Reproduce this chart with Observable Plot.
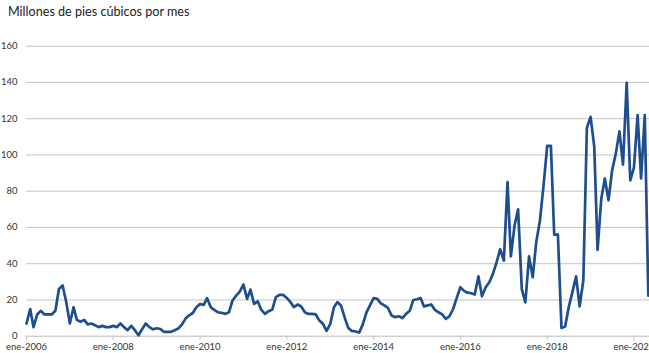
<!DOCTYPE html>
<html>
<head>
<meta charset="utf-8">
<script src="https://cdn.jsdelivr.net/npm/d3@7"></script>
<script src="https://cdn.jsdelivr.net/npm/@observablehq/plot@0.6"></script>
<style>
  html, body { margin: 0; padding: 0; background: #fff; width: 649px; height: 353px; overflow: hidden; }
  #title { height: 28px; box-sizing: border-box; padding: 4px 0 0 8px; font: 12.6px Lato, sans-serif; line-height: 15px; color: #222; white-space: nowrap; }
  #chart svg { display: block; overflow: visible; }
</style>
</head>
<body>
<div id="title">Millones de pies cúbicos por mes</div>
<div id="chart"></div>
<script>
// Monthly series starting January 2006 (one value per month)
const startYear = 2006;
const startMonth = 0; // enero
const values = [
  7, 15, 5, 12, 14, 12, 12, 12, 14, 26, 28, 19,
  7, 16, 9, 8, 9, 6.5, 7, 6, 5, 5.7, 5, 5,
  5.7, 5, 7, 5, 3.3, 5.7, 3.3, 0.5, 4, 7, 5, 3.8,
  4.4, 4, 2.4, 2.4, 2.4, 3.3, 4.2, 6.4, 9.7, 11.5, 12.8, 16,
  17.8, 17.3, 21, 16, 14.5, 13.2, 12.9, 12.3, 13.2, 19.7, 22.4, 24.6,
  28.5, 20.6, 25.7, 17.8, 19.3, 14.5, 12.3, 13.8, 14.7, 21.5, 22.8, 22.8,
  21.1, 18.8, 16, 17.5, 16.4, 13.2, 12.3, 12.3, 12, 8.6, 6.8, 3,
  6.8, 16, 18.8, 17, 10.5, 4.6, 2.9, 2.6, 2, 6.4, 13, 17,
  21, 20.6, 18.2, 17, 15.6, 11.4, 10.5, 11, 10, 12.3, 14, 20,
  20.4, 21, 16.4, 17, 17.5, 14.5, 13.2, 12, 9.6, 11, 15, 21,
  27, 25, 24, 23.7, 23, 33, 22, 27, 29.8, 34.4, 40.8, 48,
  41.7, 85, 44, 61, 70, 26, 18.6, 44, 32.5, 52, 64, 83,
  105, 105, 56, 56, 4.6, 5.3, 16, 24.3, 33, 16.5, 30.7, 115,
  121, 104.6, 47.6, 75.8, 87, 75, 91.4, 100.6, 113, 94.7, 139.8, 86,
  93, 122, 87, 122, 22.4
];
const xTickYears = [2006, 2008, 2010, 2012, 2014, 2016, 2018, 2020];
const xTickLabels = ["ene-2006", "ene-2008", "ene-2010", "ene-2012", "ene-2014", "ene-2016", "ene-2018", "ene-2020"];
const yTicks = [0, 20, 40, 60, 80, 100, 120, 140, 160];

const data = values.map((v, i) => ({
  date: new Date(Date.UTC(startYear, startMonth + i, 1)),
  value: v
}));
const tickDates = xTickYears.map(y => new Date(Date.UTC(y, 0, 1)));
const labelOf = new Map(tickDates.map((d, i) => [+d, xTickLabels[i]]));

const chart = Plot.plot({
  width: 649,
  height: 325,
  marginLeft: 26,
  marginRight: 0,
  marginTop: 17.7,
  marginBottom: 17.3,
  style: { fontFamily: "Lato, sans-serif", fontSize: "9.5px", color: "#333", background: "#fff" },
  x: { type: "utc", domain: [new Date(Date.UTC(2006, 0, 1)), new Date(Date.UTC(2020, 4, 11))] },
  y: { domain: [0, 160] },
  marks: [
    Plot.gridY(yTicks.filter(d => d > 0), { stroke: "#c4c4c4", strokeOpacity: 1, strokeWidth: 1 }),
    Plot.ruleY([0], { stroke: "#bcbcbc", strokeWidth: 1 }),
    Plot.axisX(tickDates, { tickFormat: d => labelOf.get(+d), tickSize: 4, tickPadding: 3, stroke: "#bcbcbc", label: null, fill: "#333" }),
    Plot.axisY(yTicks, { tickSize: 0, tickPadding: 9, label: null, fill: "#333" }),
    Plot.lineY(data, { x: "date", y: "value", stroke: "#1f4e8f", strokeWidth: 2.7, strokeLinejoin: "round" })
  ]
});
document.getElementById("chart").appendChild(chart);
</script>
</body>
</html>
